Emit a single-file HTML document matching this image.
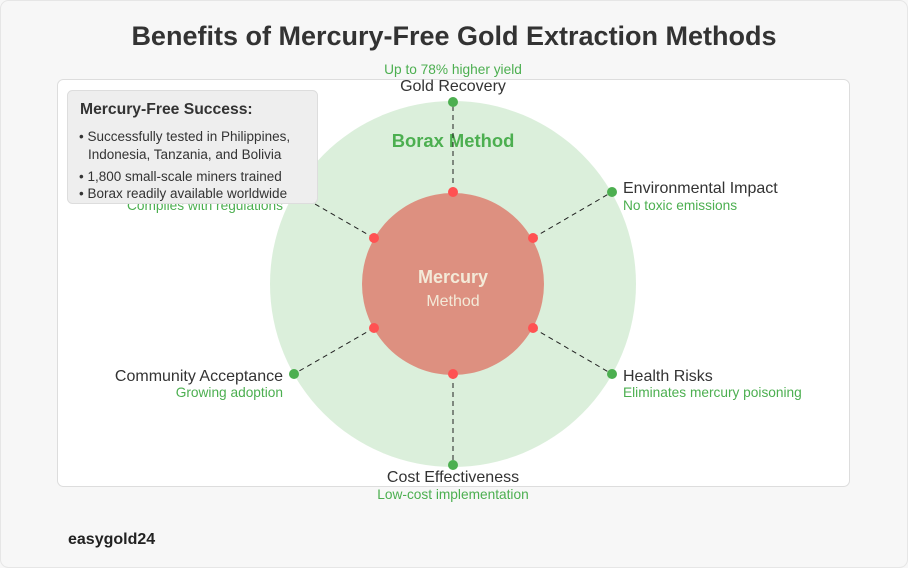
<!DOCTYPE html>
<html><head><style>
body{margin:0;width:908px;height:568px;background:#f7f7f7;font-family:"Liberation Sans",sans-serif;overflow:hidden}
</style></head><body>
<svg width="908" height="568" viewBox="0 0 908 568" style="position:absolute;left:0;top:0" font-family="Liberation Sans, sans-serif">
<rect x="0.5" y="0.5" width="907" height="567" rx="8" fill="#f7f7f7" stroke="#e6e6e6"/>
<text x="454" y="45" text-anchor="middle" font-size="27" font-weight="bold" fill="#333">Benefits of Mercury-Free Gold Extraction Methods</text>
<rect x="57.5" y="79.5" width="792" height="407" rx="6" fill="#fff" stroke="#ddd"/>
<circle cx="453" cy="284" r="183" fill="#d9eed9" opacity="0.95"/>
<text x="453" y="147" text-anchor="middle" font-size="18.4" font-weight="bold" fill="#4caf50">Borax Method</text>
<g stroke="#222" stroke-width="1" stroke-dasharray="5,4">
<line x1="453" y1="192" x2="453" y2="102"/>
<line x1="533" y1="238" x2="612" y2="192"/>
<line x1="533" y1="328" x2="612" y2="374"/>
<line x1="453" y1="374" x2="453" y2="465"/>
<line x1="374" y1="328" x2="294" y2="374"/>
<line x1="374" y1="238" x2="294" y2="192"/>
</g>
<circle cx="453" cy="284" r="91" fill="#dd9080"/>
<text x="453" y="283" text-anchor="middle" font-size="18" font-weight="bold" fill="#f3ead8">Mercury</text>
<text x="453" y="306" text-anchor="middle" font-size="16" fill="#f3ead8">Method</text>
<g fill="#ff5252">
<circle cx="453" cy="192" r="5"/><circle cx="533" cy="238" r="5"/><circle cx="533" cy="328" r="5"/>
<circle cx="453" cy="374" r="5"/><circle cx="374" cy="328" r="5"/><circle cx="374" cy="238" r="5"/>
</g>
<g fill="#4caf50">
<circle cx="453" cy="102" r="5"/><circle cx="612" cy="192" r="5"/><circle cx="612" cy="374" r="5"/>
<circle cx="453" cy="465" r="5"/><circle cx="294" cy="374" r="5"/><circle cx="294" cy="192" r="5"/>
</g>
<g font-size="16" fill="#333">
<text x="453" y="91" text-anchor="middle">Gold Recovery</text>
<text x="623" y="193">Environmental Impact</text>
<text x="623" y="381">Health Risks</text>
<text x="453" y="482" text-anchor="middle">Cost Effectiveness</text>
<text x="283" y="381" text-anchor="end">Community Acceptance</text>
</g>
<g font-size="13.7" fill="#4caf50">
<text x="453" y="74" text-anchor="middle">Up to 78% higher yield</text>
<text x="623" y="210">No toxic emissions</text>
<text x="623" y="397">Eliminates mercury poisoning</text>
<text x="453" y="499" text-anchor="middle">Low-cost implementation</text>
<text x="283" y="397" text-anchor="end">Growing adoption</text>
<text x="283" y="210" text-anchor="end">Complies with regulations</text>
</g>
<rect x="67.5" y="90.5" width="250" height="113" rx="5" fill="#eeeeee" stroke="#ddd"/>
<text x="80" y="114" font-size="15.7" font-weight="bold" fill="#333">Mercury-Free Success:</text>
<g font-size="13.5" fill="#333">
<text x="79" y="141">• Successfully tested in Philippines,</text>
<text x="88" y="159">Indonesia, Tanzania, and Bolivia</text>
<text x="79" y="181">• 1,800 small-scale miners trained</text>
<text x="79" y="198">• Borax readily available worldwide</text>
</g>
<text x="68" y="544" font-size="16" font-weight="bold" fill="#222">easygold24</text>
</svg>
</body></html>
